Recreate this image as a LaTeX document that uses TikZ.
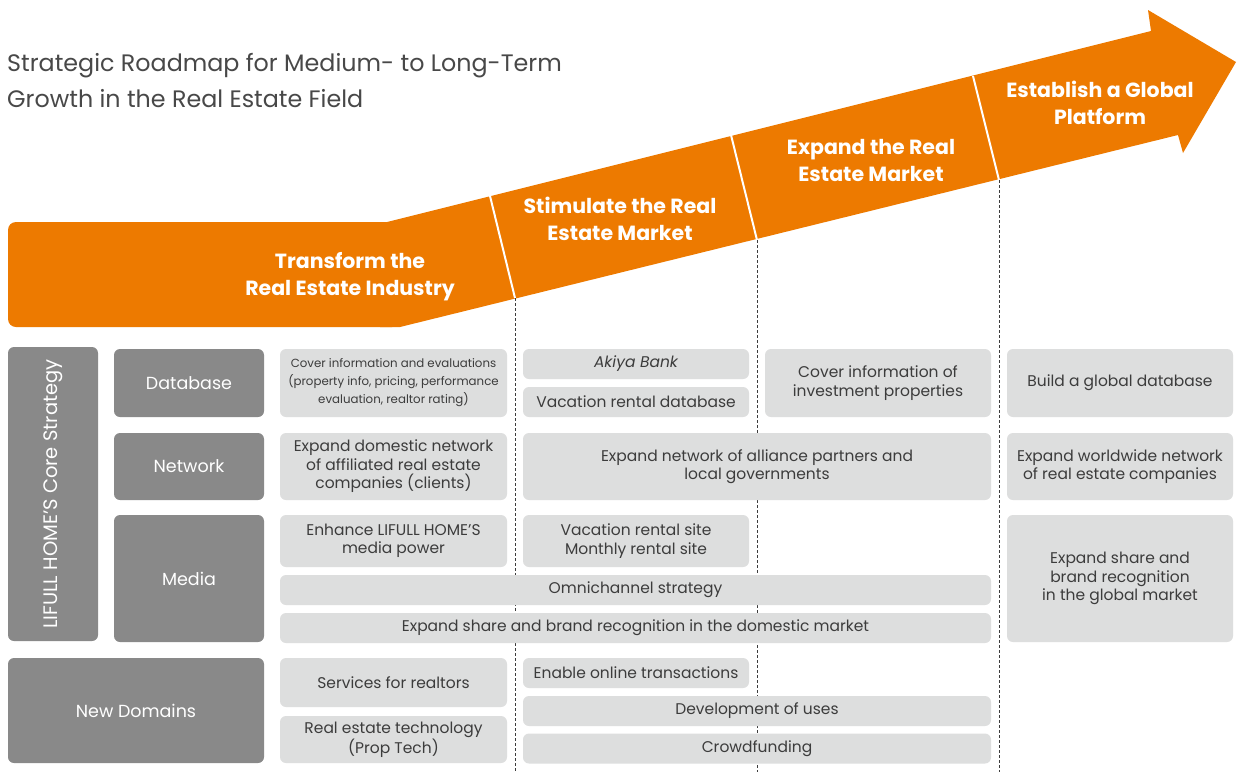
\documentclass[tikz,border=0pt]{standalone}
\usepackage{fontspec}
\setmainfont{Poppins}
\usetikzlibrary{positioning}
\definecolor{roadorange}{RGB}{237, 122, 0}
\definecolor{boxgray}{RGB}{137, 137, 137}
\definecolor{cellgray}{RGB}{221, 222, 222}
\definecolor{inkgray}{RGB}{60, 60, 60}
\definecolor{titlegray}{RGB}{72, 72, 72}

\tikzset{
  darkbox/.style={fill=boxgray, rounded corners=6, text=white, inner sep=0,
    align=center, font=\fontsize{17.5}{20}\selectfont},
  cellbox/.style={fill=cellgray, rounded corners=6, text=inkgray, inner sep=0,
    align=center, font=\fontsize{15.5}{18.5}\selectfont},
  phase/.style={text=white, align=center, font=\fontsize{20.5}{27}\selectfont\bfseries},
  gridline/.style={dashed, dash pattern=on 3pt off 2pt, inkgray, line width=0.6pt}
}

\begin{document}
\begin{tikzpicture}[x=1pt, y=-1pt]
  \useasboundingbox (0,0) rectangle (1237,772);
  \fill[white] (0,0) rectangle (1237,772);

  % Title
  \node[anchor=north west, text=titlegray, align=left, inner sep=0,
    font=\fontsize{23.8}{36}\selectfont] (title) at (7,53)
    {Strategic Roadmap for Medium- to Long-Term\\Growth in the Real Estate Field};

  % Roadmap arrow
  \fill[roadorange, rounded corners=8] (8,222) rectangle (400,327);
  \fill[roadorange] (380,222) -- (387,222) -- (1151,31) -- (1148,10) -- (1236,62)
    -- (1183,153) -- (1178,135) -- (400,327) -- (380,327) -- cycle;

  \coordinate (t1) at (490,196);  \coordinate (b1) at (515,298);
  \coordinate (t2) at (731,135);  \coordinate (b2) at (757,240);
  \coordinate (t3) at (973,76);   \coordinate (b3) at (999,180);
  \foreach \i in {1,2,3} {
    \draw[white, line width=2pt] (t\i) -- (b\i);
  }

  \node[phase] (transform) at (350,277) {Transform the\\Real Estate Industry};
  \node[phase] (stimulate) at (620,219) {Stimulate the Real\\Estate Market};
  \node[phase] (expand) at (871,160) {Expand the Real\\Estate Market};
  \node[phase] (global) at (1100,103) {Establish a Global\\Platform};

  % Column separators
  \foreach \i in {1,2,3} {
    \draw[gridline] (b\i) -- (b\i |- 0,772);
  }

  % Core strategy rows
  \node[darkbox, minimum width=90, minimum height=294] (core) at (53,494) {};
  \node[rotate=90, text=white, font=\fontsize{19.5}{20}\selectfont] (corelabel) at (core.center)
    {LIFULL HOME'S Core Strategy};
  \node[darkbox, minimum width=150, minimum height=68] (database) at (189,383) {Database};
  \node[darkbox, minimum width=150, minimum height=67] (network) at (189,466.5) {Network};
  \node[darkbox, minimum width=150, minimum height=127] (media) at (189,578.5) {Media};
  \node[darkbox, minimum width=256, minimum height=105] (newdomains) at (136,710.5) {New Domains};

  % Transform the Real Estate Industry
  \node[cellbox, minimum width=227, minimum height=68, font=\fontsize{11.8}{18}\selectfont]
    (coverinfo) at (393.5,383)
    {Cover information and evaluations\\(property info, pricing, performance\\evaluation, realtor rating)};
  \node[cellbox, minimum width=227, minimum height=67] (domnet) at (393.5,466.5)
    {Expand domestic network\\of affiliated real estate\\companies (clients)};
  \node[cellbox, minimum width=227, minimum height=52] (mediapower) at (393.5,541)
    {Enhance LIFULL HOME'S\\media power};
  \node[cellbox, minimum width=711, minimum height=30] (omni) at (635.5,590)
    {Omnichannel strategy};
  \node[cellbox, minimum width=711, minimum height=30] (domshare) at (635.5,628)
    {Expand share and brand recognition in the domestic market};
  \node[cellbox, minimum width=227, minimum height=49] (services) at (393.5,682.5)
    {Services for realtors};
  \node[cellbox, minimum width=227, minimum height=47] (proptech) at (393.5,739.5)
    {Real estate technology\\(Prop Tech)};

  % Stimulate the Real Estate Market
  \node[cellbox, minimum width=226, minimum height=30] (akiya) at (636,364)
    {\itshape Akiya Bank};
  \node[cellbox, minimum width=226, minimum height=30] (vacdb) at (636,402)
    {Vacation rental database};
  \node[cellbox, minimum width=468, minimum height=67] (alliance) at (757,466.5)
    {Expand network of alliance partners and\\local governments};
  \node[cellbox, minimum width=226, minimum height=52] (rentalsite) at (636,541)
    {Vacation rental site\\Monthly rental site};
  \node[cellbox, minimum width=226, minimum height=30] (online) at (636,673)
    {Enable online transactions};
  \node[cellbox, minimum width=468, minimum height=30] (uses) at (757,711)
    {Development of uses};
  \node[cellbox, minimum width=468, minimum height=30] (crowd) at (757,748.5)
    {Crowdfunding};

  % Expand the Real Estate Market
  \node[cellbox, minimum width=226, minimum height=68] (invest) at (878,383)
    {Cover information of\\investment properties};

  % Establish a Global Platform
  \node[cellbox, minimum width=226, minimum height=68] (globaldb) at (1120,383)
    {Build a global database};
  \node[cellbox, minimum width=226, minimum height=67] (worldnet) at (1120,466.5)
    {Expand worldwide network\\of real estate companies};
  \node[cellbox, minimum width=226, minimum height=127] (globalshare) at (1120,578.5)
    {Expand share and\\brand recognition\\in the global market};
\end{tikzpicture}
\end{document}
